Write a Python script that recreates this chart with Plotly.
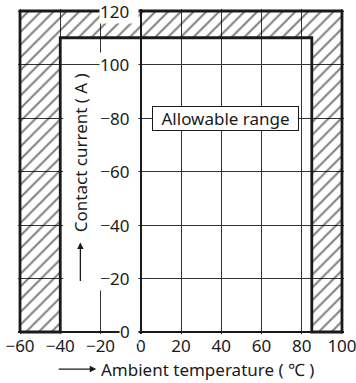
import plotly.graph_objects as go

# ---- data ----
x_range = [-60, 100]
y_range = [0, 120]
x_ticks = [-60, -40, -20, 0, 20, 40, 60, 80, 100]
y_ticks = [0, 20, 40, 60, 80, 100, 120]
temp_min = -40       # allowable ambient temperature low limit (°C)
temp_max = 85        # allowable ambient temperature high limit (°C)
current_max = 110    # allowable contact current (A)
region_label = "Allowable range"
region_label_pos = [42, 80]
x_title = "Ambient temperature ( ℃ )"
y_title = "Contact current ( A )"

FONT = "Noto Sans"
INK = "#1a1a1a"

# hatched (non-allowable) region: frame between full chart box and allowable box
hatch_x = [x_range[0], x_range[0], x_range[1], x_range[1], temp_max, temp_max,
           temp_min, temp_min, x_range[0]]
hatch_y = [y_range[0], y_range[1], y_range[1], y_range[0], y_range[0], current_max,
           current_max, y_range[0], y_range[0]]

fig = go.Figure()
fig.add_trace(go.Scatter(
    x=hatch_x, y=hatch_y, mode="lines", fill="toself",
    fillcolor="rgba(0,0,0,0)",
    fillpattern=dict(shape="/", fgcolor="#000000", bgcolor="rgba(0,0,0,0)", size=9, solidity=0.22),
    line=dict(color=INK, width=2.8),
    hoverinfo="skip", showlegend=False,
))

annotations = []
# y tick labels placed left of the x=0 axis, with white background
for v in y_ticks:
    annotations.append(dict(
        x=0, y=v, xref="x", yref="y", text=f"{v}\u2002", showarrow=False,
        xanchor="right", yanchor="middle", xshift=-1.5, bgcolor="white", borderpad=0,
        font=dict(family=FONT, size=17, color=INK),
    ))
# region label
annotations.append(dict(
    x=region_label_pos[0], y=region_label_pos[1], xref="x", yref="y",
    text=f"\u2002{region_label}\u2002", showarrow=False, bgcolor="white",
    bordercolor=INK, borderwidth=1, borderpad=0,
    font=dict(family=FONT, size=17, color=INK),
))
# y title (rotated) and its arrow
annotations.append(dict(
    x=-30, y=67, xref="x", yref="y", text=y_title, textangle=-90, showarrow=False,
    font=dict(family=FONT, size=17, color=INK),
))
annotations.append(dict(
    x=-30, y=33.5, xref="x", yref="y", ax=-30, ay=18.5, axref="x", ayref="y",
    text="", showarrow=True, arrowhead=2, arrowsize=1, arrowwidth=1.3, arrowcolor=INK,
))
# x title and its arrow
annotations.append(dict(
    x=0.58, y=-0.108, xref="paper", yref="paper", text=x_title, showarrow=False,
    xanchor="center", yanchor="middle", font=dict(family=FONT, size=17, color=INK),
))
annotations.append(dict(
    x=0.24, y=-0.108, xref="paper", yref="paper", ax=-39, ay=0,
    text="", showarrow=True, arrowhead=2, arrowsize=1, arrowwidth=1.3, arrowcolor=INK,
))

# white cover behind the y title (hides grid lines there)
shapes = [dict(type="rect", xref="x", yref="y", x0=-38.6, x1=-19.7, y0=15.5, y1=97.5,
               fillcolor="white", line=dict(width=0), layer="above")]

fig.update_layout(
    width=356, height=383,
    margin=dict(l=18, r=12, t=9, b=49, autoexpand=False),
    paper_bgcolor="white", plot_bgcolor="white",
    showlegend=False,
    xaxis=dict(range=[-61, 101], tickvals=x_ticks, showgrid=True, gridcolor="#333333",
               gridwidth=1, zeroline=True, zerolinecolor=INK, zerolinewidth=1.6,
               showline=False, ticks="", ticklabeloverflow="allow", automargin=False,
               tickfont=dict(family=FONT, size=17, color=INK)),
    yaxis=dict(range=[-0.75, 120.75], tickvals=y_ticks, showgrid=True, gridcolor="#333333",
               gridwidth=1, zeroline=True, zerolinecolor=INK, zerolinewidth=1.6,
               showline=False, showticklabels=False, ticks="", automargin=False),
    annotations=annotations,
    shapes=shapes,
)

fig.write_html("out.html", config={"displayModeBar": False},
               post_script="document.body.style.margin='0';document.body.style.overflow='hidden';")
